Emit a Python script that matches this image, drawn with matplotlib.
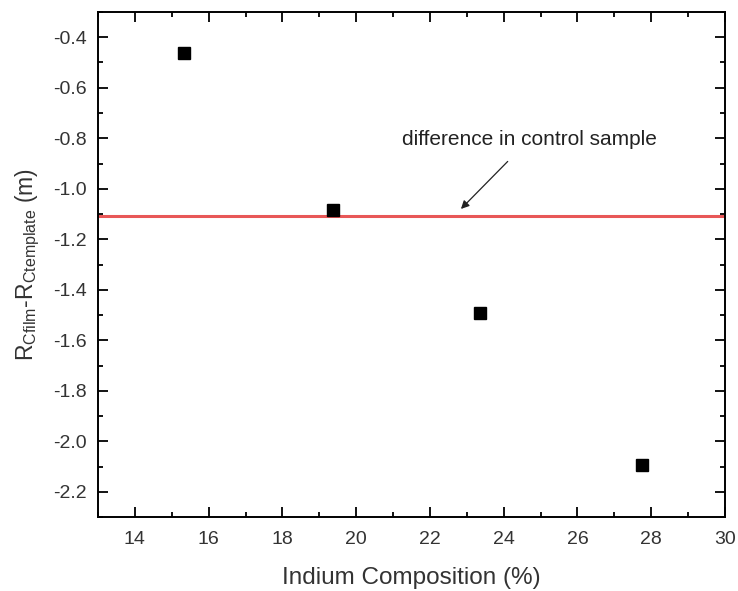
import matplotlib
matplotlib.use("Agg")
import matplotlib.pyplot as plt
from matplotlib.ticker import MultipleLocator

plt.rcParams['font.family'] = ['Liberation Sans', 'DejaVu Sans']
plt.rcParams['mathtext.fontset'] = 'custom'
plt.rcParams['mathtext.rm'] = 'Liberation Sans'

indium = [15.32, 19.38, 23.35, 27.74]
delta_r = [-0.463, -1.086, -1.492, -2.094]
control_diff = -1.109

fig = plt.figure(figsize=(7.38, 5.91), dpi=100)
ax = fig.add_axes([0.1328, 0.1252, 0.8496, 0.8545])

ax.axhline(control_diff, color='#e64545', lw=2.2, alpha=0.9, zorder=1)
ax.plot(indium, delta_r, 's', color='black', ms=8.5, zorder=3)

ax.annotate('difference in control sample', xy=(22.84, -1.08), xytext=(24.7, -0.804),
            ha='center', va='center', fontsize=15, color='#222222',
            arrowprops=dict(arrowstyle='-|>', color='#222222', lw=0.9,
                            shrinkA=10, shrinkB=0, mutation_scale=12))

ax.set_xlim(13, 30)
ax.set_ylim(-2.3, -0.3)
ax.xaxis.set_major_locator(MultipleLocator(2))
ax.xaxis.set_minor_locator(MultipleLocator(1))
ax.yaxis.set_major_locator(MultipleLocator(0.2))
ax.yaxis.set_minor_locator(MultipleLocator(0.1))
ax.yaxis.set_major_formatter(plt.FuncFormatter(lambda v, p: f'{v:.1f}'))

ax.tick_params(which='both', direction='in', top=True, right=True, labelsize=14,
               width=1.3, labelcolor='#333333')
ax.tick_params(which='major', length=7)
ax.tick_params(which='minor', length=3.5)
ax.tick_params(axis='x', which='both', pad=10)
ax.tick_params(axis='y', which='both', pad=8)
for s in ax.spines.values():
    s.set_linewidth(1.4)

ax.set_xlabel('Indium Composition (%)', fontsize=17.5, labelpad=14, color='#333333')
ax.set_ylabel(r'$\mathrm{R_{Cfilm}}$-$\mathrm{R_{Ctemplate}}$ (m)', fontsize=16.5,
              labelpad=8, color='#333333')

fig.savefig('out.png', dpi=100)
